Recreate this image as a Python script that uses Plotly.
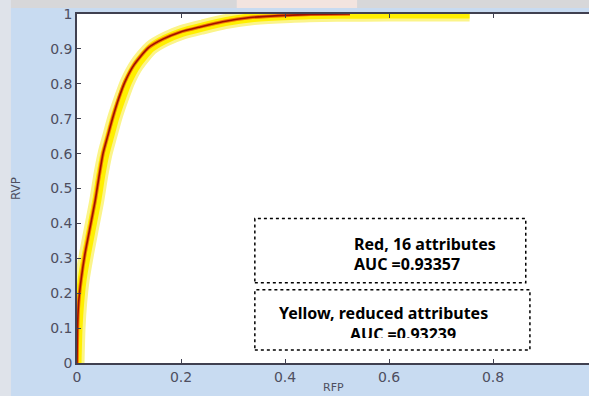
import plotly.graph_objects as go

# ROC curve data
fpr_red = [0, 0.001, 0.003, 0.008, 0.015, 0.024, 0.035, 0.043, 0.05, 0.059, 0.069, 0.08,
           0.092, 0.11, 0.137, 0.165, 0.198, 0.237, 0.28, 0.333, 0.4, 0.45, 0.525]
tpr_red = [0, 0.1, 0.17, 0.24, 0.31, 0.38, 0.465, 0.54, 0.6, 0.65, 0.704, 0.757,
           0.805, 0.855, 0.903, 0.928, 0.948, 0.963, 0.978, 0.99, 0.996, 0.999, 1.0]
fpr_yel = [0, 0.002, 0.005, 0.01, 0.018, 0.027, 0.038, 0.046, 0.054, 0.063, 0.073, 0.085,
           0.097, 0.115, 0.142, 0.17, 0.203, 0.242, 0.285, 0.34, 0.41, 0.5, 0.6, 0.755]
tpr_yel = [0, 0.1, 0.17, 0.24, 0.31, 0.38, 0.465, 0.54, 0.6, 0.65, 0.704, 0.757,
           0.805, 0.855, 0.903, 0.928, 0.948, 0.963, 0.978, 0.99, 0.996, 0.999, 1.0, 1.0]

x_ticks = [0, 0.2, 0.4, 0.6, 0.8]
x_tick_labels = ["0", "0.2", "0.4", "0.6", "0.8"]
y_ticks = [0, 0.1, 0.2, 0.3, 0.4, 0.5, 0.6, 0.7, 0.8, 0.9, 1]
y_tick_labels = ["0", "0.1", "0.2", "0.3", "0.4", "0.5", "0.6", "0.7", "0.8", "0.9", "1"]

label_red = "Red, 16 attributes"
auc_red = "AUC =0.93357"
label_yel = "Yellow, reduced attributes"
auc_yel = "AUC =0.93239"

BG = "#c8dbf1"
TXT_FONT = "Liberation Sans Narrow, Arial Narrow, Noto Sans"
AX_FONT = dict(family="DejaVu Sans", size=14, color="#4e4e60")

fig = go.Figure()
# yellow halo + core
fig.add_trace(go.Scatter(x=fpr_yel, y=tpr_yel, mode="lines",
                         line=dict(color="#fbf48a", width=15, shape="spline", smoothing=0.6),
                         hoverinfo="skip", showlegend=False))
fig.add_trace(go.Scatter(x=fpr_yel, y=tpr_yel, mode="lines",
                         line=dict(color="#ffef00", width=9, shape="spline", smoothing=0.6),
                         hoverinfo="skip", showlegend=False))
# red halo + core
fig.add_trace(go.Scatter(x=fpr_red, y=tpr_red, mode="lines",
                         line=dict(color="#f07800", width=3.5, shape="spline", smoothing=0.6),
                         hoverinfo="skip", showlegend=False))
fig.add_trace(go.Scatter(x=fpr_red, y=tpr_red, mode="lines",
                         line=dict(color="#a01000", width=1.6, shape="spline", smoothing=0.6),
                         hoverinfo="skip", showlegend=False))
# clipped AUC text of the yellow box
fig.add_trace(go.Scatter(x=[0.525], y=[0.076], mode="text", text=[auc_yel],
                         textposition="middle right",
                         textfont=dict(family=TXT_FONT, size=16, color="black", weight="bold"),
                         hoverinfo="skip", showlegend=False))

shapes = [
    # screenshot background strips
    dict(type="rect", xref="paper", yref="paper", x0=-0.16, x1=1.01, y0=1.0172, y1=1.05,
         fillcolor="#d7d7d9", line_width=0, layer="below"),
    dict(type="rect", xref="paper", yref="paper", x0=0.312, x1=0.547, y0=1.0172, y1=1.05,
         fillcolor="#f3e4df", line_width=0, layer="below"),
    dict(type="rect", xref="paper", yref="paper", x0=-0.16, x1=-0.129, y0=-0.1, y1=1.05,
         fillcolor="#dfe3ea", line_width=0, layer="below"),
    # white cover clipping the second AUC text
    dict(type="rect", xref="x", yref="y", x0=0.35, x1=0.865, y0=0.042, y1=0.0715,
         fillcolor="white", line_width=0, layer="above"),
    # dotted boxes
    dict(type="rect", xref="x", yref="y", x0=0.342, x1=0.863, y0=0.230, y1=0.414,
         line=dict(color="black", width=1.5, dash="dot"), layer="above"),
    dict(type="rect", xref="x", yref="y", x0=0.342, x1=0.871, y0=0.037, y1=0.210,
         line=dict(color="black", width=1.5, dash="dot"), layer="above"),
]

annotations = [
    dict(x=0.5288, y=0.342, xref="x", yref="y", text=label_red, showarrow=False,
         xanchor="left", yanchor="middle",
         font=dict(family=TXT_FONT, size=16, color="black", weight="bold")),
    dict(x=0.5288, y=0.2845, xref="x", yref="y", text=auc_red, showarrow=False,
         xanchor="left", yanchor="middle",
         font=dict(family=TXT_FONT, size=16, color="black", weight="bold")),
    dict(x=0.3846, y=0.1437, xref="x", yref="y", text=label_yel, showarrow=False,
         xanchor="left", yanchor="middle",
         font=dict(family=TXT_FONT, size=16, color="black", weight="bold")),
    dict(x=0.5, y=-0.0935, xref="paper", yref="paper", text="RFP", showarrow=False,
         xanchor="center", yanchor="bottom",
         font=dict(family="DejaVu Sans", size=11, color="#4e4e60")),
    dict(x=-0.12, y=0.5, xref="paper", yref="paper", text="RVP", showarrow=False,
         textangle=-90, xanchor="center", yanchor="middle",
         font=dict(family="DejaVu Sans", size=12, color="#4e4e60")),
]

fig.update_layout(
    width=589, height=396,
    margin=dict(l=77, r=0, t=14, b=33),
    paper_bgcolor=BG, plot_bgcolor="white",
    shapes=shapes, annotations=annotations,
    xaxis=dict(range=[0, (589 - 77) / 520], tickvals=x_ticks, ticktext=x_tick_labels,
               ticks="inside", ticklen=4, tickcolor="#404050", showgrid=False, zeroline=False,
               showline=True, linecolor="#404050", linewidth=1.5, mirror="ticks",
               tickfont=AX_FONT),
    yaxis=dict(range=[0, 1], tickvals=y_ticks, ticktext=y_tick_labels,
               ticks="inside", ticklen=4, tickcolor="#404050", showgrid=False, zeroline=False,
               showline=True, linecolor="#404050", linewidth=1.5, mirror=False,
               tickfont=AX_FONT),
    showlegend=False,
)

fig.write_html("out.html")
